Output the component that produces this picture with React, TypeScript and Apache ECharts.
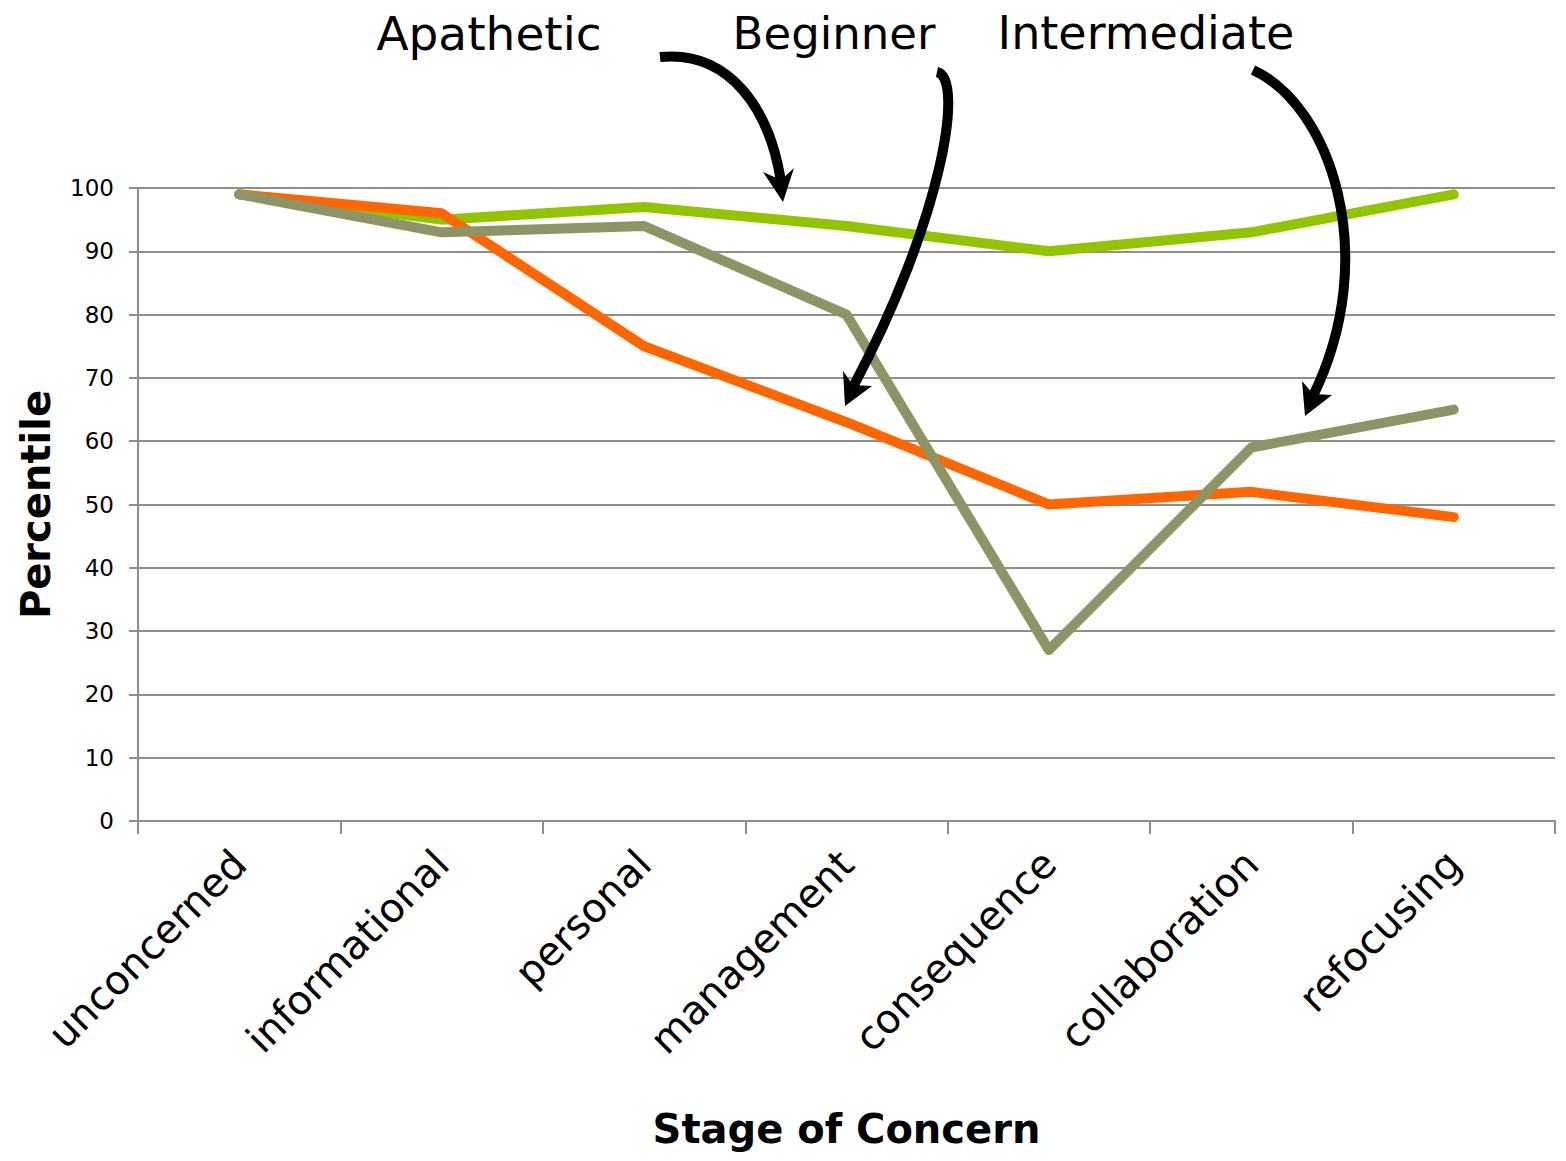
import React, { useEffect, useRef } from "react";
import * as echarts from "echarts";

const stages = [
  "unconcerned",
  "informational",
  "personal",
  "management",
  "consequence",
  "collaboration",
  "refocusing",
];
const apathetic = [99, 95, 97, 94, 90, 93, 99];
const beginner = [99, 96, 75, 63, 50, 52, 48];
const intermediate = [99, 93, 94, 80, 27, 59, 65];

const FONT = "DejaVu Sans";
const GRID_GREY = "#8e8e8e";

function lineSeries(name: string, data: number[], color: string) {
  return {
    name,
    type: "line",
    data,
    symbol: "none",
    lineStyle: { color, width: 10, cap: "round", join: "round" },
    itemStyle: { color },
  };
}

function arrow(
  curve: { x1: number; y1: number; cpx1: number; cpy1: number; cpx2: number; cpy2: number; x2: number; y2: number },
  head: number[][]
) {
  return [
    {
      type: "bezierCurve",
      z: 100,
      shape: curve,
      style: { stroke: "#000", lineWidth: 10, fill: null, lineCap: "butt" },
    },
    {
      type: "polygon",
      z: 101,
      shape: { points: head },
      style: { fill: "#000" },
    },
  ];
}

export default function App() {
  const ref = useRef<HTMLDivElement>(null);

  useEffect(() => {
    document.body.style.margin = "0";
    if (!ref.current) return;
    const chart = echarts.init(ref.current, undefined, { renderer: "svg" });
    chart.setOption({
      animation: false,
      backgroundColor: "#fff",
      grid: { left: 138, right: 11, top: 188, bottom: 340, outerBoundsMode: "none", containLabel: false },
      xAxis: {
        type: "category",
        data: stages,
        boundaryGap: true,
        name: "Stage of Concern",
        nameLocation: "middle",
        nameGap: 288,
        nameTextStyle: { fontFamily: FONT, fontSize: 40, fontWeight: "bold", color: "#000" },
        axisLine: { show: true, lineStyle: { color: GRID_GREY, width: 2 } },
        axisTick: { show: true, length: 13, lineStyle: { color: GRID_GREY, width: 2 } },
        axisLabel: {
          rotate: 45,
          margin: 36,
          interval: 0,
          fontFamily: FONT,
          fontSize: 40,
          color: "#000",
        },
        splitLine: { show: false },
      },
      yAxis: {
        type: "value",
        min: 0,
        max: 100,
        interval: 10,
        name: "Percentile",
        nameLocation: "middle",
        nameGap: 82,
        nameTextStyle: { fontFamily: FONT, fontSize: 40, fontWeight: "bold", color: "#000" },
        axisLine: { show: true, lineStyle: { color: GRID_GREY, width: 2 } },
        axisTick: { show: true, length: 9, lineStyle: { color: GRID_GREY, width: 2 } },
        axisLabel: { margin: 24, fontFamily: FONT, fontSize: 23, color: "#000" },
        splitLine: { show: true, lineStyle: { color: GRID_GREY, width: 2 } },
      },
      series: [
        lineSeries("Apathetic", apathetic, "#92c400"),
        lineSeries("Beginner", beginner, "#ff6600"),
        lineSeries("Intermediate", intermediate, "#8e9465"),
      ],
      graphic: [
        {
          type: "text",
          x: 489,
          y: 33,
          style: {
            text: "Apathetic",
            fontFamily: FONT,
            fontSize: 47,
            fill: "#000",
            textAlign: "center",
            textVerticalAlign: "middle",
          },
        },
        {
          type: "text",
          x: 834,
          y: 33,
          style: {
            text: "Beginner",
            fontFamily: FONT,
            fontSize: 45,
            fill: "#000",
            textAlign: "center",
            textVerticalAlign: "middle",
          },
        },
        {
          type: "text",
          x: 1146,
          y: 33,
          style: {
            text: "Intermediate",
            fontFamily: FONT,
            fontSize: 46,
            fill: "#000",
            textAlign: "center",
            textVerticalAlign: "middle",
          },
        },
        ...arrow(
          { x1: 660, y1: 57, cpx1: 730, cpy1: 50, cpx2: 770, cpy2: 110, x2: 781, y2: 182 },
          [[783, 202], [763, 172], [781, 180], [794, 168]]
        ),
        ...arrow(
          { x1: 937, y1: 72, cpx1: 965, cpy1: 78, cpx2: 942, cpy2: 220, x2: 853, y2: 387 },
          [[845, 406], [843, 371], [853, 385], [872, 386]]
        ),
        ...arrow(
          { x1: 1253, y1: 70, cpx1: 1330, cpy1: 105, cpx2: 1382, cpy2: 255, x2: 1313, y2: 396 },
          [[1305, 416], [1302, 381], [1313, 394], [1332, 395]]
        ),
      ],
    });
    return () => chart.dispose();
  }, []);

  return <div ref={ref} style={{ width: 1566, height: 1161 }} />;
}
